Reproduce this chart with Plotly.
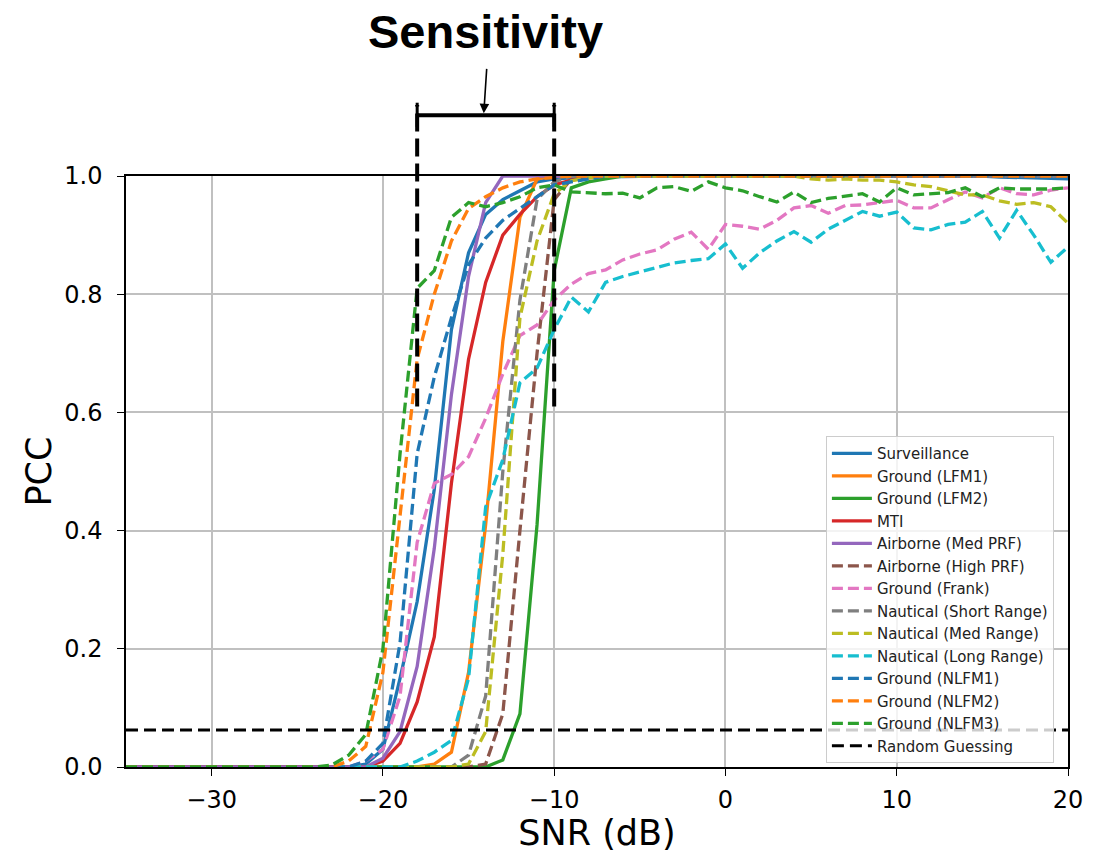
import plotly.graph_objects as go

SNR = list(range(-35, 21))

surveillance = [0, 0, 0, 0, 0, 0, 0, 0, 0, 0, 0, 0, 0,
                0.0, 0.005, 0.03, 0.15, 0.28, 0.47, 0.74, 0.87, 0.935, 0.96, 0.975, 0.99, 0.995, 0.997,
                0.998, 1.0, 0.999, 1.0, 1.0, 1.0, 1.0, 1.0, 1.0, 1.0, 1.0, 1.0, 1.0, 1.0, 1.0,
                1.0, 1.0, 1.0, 1.0, 1.0, 1.0, 1.0, 1.0, 1.0, 0.998, 0.998, 0.997, 0.996, 0.995]
lfm1 = [0, 0, 0, 0, 0, 0, 0, 0, 0, 0, 0, 0, 0, 0, 0, 0, 0, 0,
        0.005, 0.025, 0.16, 0.41, 0.72, 0.93, 0.995,
        1.0, 1.0, 1.0, 1.0, 1.0, 1.0, 1.0, 1.0, 1.0, 1.0, 1.0, 1.0, 1.0, 1.0, 1.0, 1.0,
        1.0, 1.0, 1.0, 1.0, 1.0, 1.0, 1.0, 1.0, 1.0, 1.0, 1.0, 1.0, 1.0, 1.0, 1.0]
lfm2 = [0, 0, 0, 0, 0, 0, 0, 0, 0, 0, 0, 0, 0, 0, 0, 0, 0, 0, 0, 0, 0, 0,
        0.012, 0.09, 0.41, 0.84, 0.98, 0.99, 0.995,
        1.0, 1.0, 1.0, 1.0, 1.0, 1.0, 1.0, 1.0, 1.0, 1.0, 1.0, 1.0, 1.0, 1.0, 1.0,
        1.0, 1.0, 1.0, 1.0, 1.0, 1.0, 1.0, 1.0, 1.0, 1.0, 1.0, 1.0]
mti = [0, 0, 0, 0, 0, 0, 0, 0, 0, 0, 0, 0, 0, 0, 0,
       0.01, 0.04, 0.11, 0.22, 0.48, 0.69, 0.82, 0.9, 0.935, 0.965, 0.985, 0.993, 0.997,
       1.0, 1.0, 1.0, 1.0, 1.0, 1.0, 1.0, 1.0, 1.0, 1.0, 1.0, 1.0, 1.0, 1.0,
       1.0, 1.0, 1.0, 1.0, 1.0, 1.0, 1.0, 1.0, 1.0, 1.0, 1.0, 1.0, 1.0, 1.0]
airborne_med = [0, 0, 0, 0, 0, 0, 0, 0, 0, 0, 0, 0, 0, 0, 0,
                0.015, 0.06, 0.17, 0.37, 0.63, 0.83, 0.955,
                1.0, 1.0, 1.0, 1.0, 1.0, 1.0, 1.0, 1.0, 1.0, 1.0, 1.0, 1.0, 1.0, 1.0, 1.0, 1.0, 1.0,
                1.0, 1.0, 1.0, 1.0, 1.0, 1.0, 1.0, 1.0, 1.0, 1.0, 1.0, 1.0, 1.0, 1.0, 1.0, 1.0, 1.0]
airborne_high = [0, 0, 0, 0, 0, 0, 0, 0, 0, 0, 0, 0, 0, 0, 0, 0, 0, 0, 0, 0, 0,
                 0.005, 0.09, 0.40, 0.70, 0.96, 0.995,
                 1.0, 1.0, 1.0, 1.0, 1.0, 1.0, 1.0, 1.0, 1.0, 1.0, 1.0, 1.0, 1.0, 1.0, 1.0,
                 1.0, 1.0, 1.0, 1.0, 1.0, 1.0, 1.0, 1.0, 1.0, 1.0, 1.0, 1.0, 1.0, 1.0]
frank = [0, 0, 0, 0, 0, 0, 0, 0, 0, 0, 0, 0, 0, 0,
         0.01, 0.03, 0.12, 0.38, 0.48, 0.495, 0.525, 0.59, 0.665, 0.73, 0.748, 0.79,
         0.817, 0.835, 0.841, 0.858, 0.868, 0.875, 0.893, 0.905, 0.876, 0.918,
         0.915, 0.91, 0.925, 0.946, 0.95, 0.937, 0.95, 0.951, 0.955, 0.959,
         0.946, 0.946, 0.96, 0.973, 0.963, 0.98, 0.97, 0.968, 0.976, 0.98]
short_range = [0, 0, 0, 0, 0, 0, 0, 0, 0, 0, 0, 0, 0, 0, 0, 0, 0, 0, 0, 0,
               0.02, 0.12, 0.5, 0.79, 0.96, 0.99,
               1.0, 1.0, 1.0, 1.0, 1.0, 1.0, 1.0, 1.0, 1.0, 1.0, 1.0, 1.0, 1.0, 1.0, 1.0,
               1.0, 1.0, 1.0, 1.0, 1.0, 1.0, 1.0, 1.0, 1.0, 1.0, 1.0, 1.0, 1.0, 1.0, 1.0]
med_range = [0, 0, 0, 0, 0, 0, 0, 0, 0, 0, 0, 0, 0, 0, 0, 0, 0, 0, 0, 0,
             0.005, 0.06, 0.36, 0.76, 0.89, 0.97, 0.992, 0.997,
             1.0, 1.0, 1.0, 1.0, 1.0, 1.0, 1.0, 1.0, 1.0, 1.0, 1.0, 1.0,
             0.995, 0.993, 0.995, 0.993, 0.993, 0.99, 0.985, 0.982, 0.975, 0.968,
             0.968, 0.958, 0.952, 0.955, 0.948, 0.92]
long_range = [0, 0, 0, 0, 0, 0, 0, 0, 0, 0, 0, 0, 0, 0, 0, 0, 0,
              0.01, 0.025, 0.045, 0.15, 0.44, 0.52, 0.65, 0.675, 0.74, 0.795, 0.77,
              0.82, 0.83, 0.838, 0.845, 0.853, 0.857, 0.86, 0.885,
              0.844, 0.87, 0.89, 0.906, 0.888, 0.91, 0.925, 0.94, 0.932, 0.939,
              0.912, 0.909, 0.918, 0.922, 0.94, 0.895, 0.942, 0.90, 0.854, 0.88]
nlfm1 = [0, 0, 0, 0, 0, 0, 0, 0, 0, 0, 0, 0, 0, 0,
         0.01, 0.04, 0.21, 0.53, 0.66, 0.76, 0.85, 0.895, 0.925, 0.945, 0.965, 0.985, 0.99, 0.995,
         1.0, 1.0, 1.0, 1.0, 1.0, 1.0, 1.0, 1.0, 1.0, 1.0, 1.0, 1.0, 1.0, 1.0,
         1.0, 1.0, 1.0, 1.0, 1.0, 1.0, 1.0, 1.0, 1.0, 1.0, 1.0, 1.0, 1.0, 1.0]
nlfm2 = [0, 0, 0, 0, 0, 0, 0, 0, 0, 0, 0, 0, 0,
         0.01, 0.035, 0.16, 0.43, 0.69, 0.80, 0.89, 0.945, 0.965, 0.98, 0.99, 0.995, 0.997,
         1.0, 1.0, 1.0, 1.0, 1.0, 1.0, 1.0, 1.0, 1.0, 1.0, 1.0, 1.0, 1.0, 1.0, 1.0,
         1.0, 1.0, 1.0, 1.0, 1.0, 1.0, 1.0, 1.0, 1.0, 1.0, 1.0, 1.0, 1.0, 1.0, 1.0]
nlfm3 = [0, 0, 0, 0, 0, 0, 0, 0, 0, 0, 0, 0,
         0.003, 0.02, 0.055, 0.2, 0.53, 0.81, 0.84, 0.93, 0.955, 0.948, 0.955, 0.965, 0.98, 0.985,
         0.973, 0.972, 0.97, 0.971, 0.963, 0.98, 0.982, 0.974, 0.99, 0.98,
         0.975, 0.965, 0.956, 0.973, 0.955, 0.962, 0.966, 0.97, 0.956, 0.98,
         0.968, 0.97, 0.972, 0.98, 0.965, 0.98, 0.978, 0.978, 0.978, 0.98]

RANDOM_GUESS = 0.0625
SENS_LOW, SENS_HIGH = -18, -10
X_RANGE = [-35, 20]

names = ["Surveillance", "Ground (LFM1)", "Ground (LFM2)", "MTI", "Airborne (Med PRF)",
         "Airborne (High PRF)", "Ground (Frank)", "Nautical (Short Range)", "Nautical (Med Range)",
         "Nautical (Long Range)", "Ground (NLFM1)", "Ground (NLFM2)", "Ground (NLFM3)"]
series = [surveillance, lfm1, lfm2, mti, airborne_med, airborne_high, frank, short_range,
          med_range, long_range, nlfm1, nlfm2, nlfm3]
colors = ["#1f77b4", "#ff7f0e", "#2ca02c", "#d62728", "#9467bd", "#8c564b", "#e377c2",
          "#7f7f7f", "#bcbd22", "#17becf", "#1f77b4", "#ff7f0e", "#2ca02c"]
dashes = ["solid"] * 5 + ["11px,5px"] * 8

fig = go.Figure()
for n, s, c, d in zip(names, series, colors, dashes):
    fig.add_trace(go.Scatter(x=SNR, y=s, mode="lines", name=n,
                             line=dict(color=c, width=3.3, dash=d)))
fig.add_trace(go.Scatter(x=X_RANGE, y=[RANDOM_GUESS, RANDOM_GUESS], mode="lines",
                         name="Random Guessing",
                         line=dict(color="black", width=3, dash="12px,6px")))

def px(v):
    return (v - X_RANGE[0]) / (X_RANGE[1] - X_RANGE[0])

shapes = []
for xv in (SENS_LOW, SENS_HIGH):
    shapes.append(dict(type="line", xref="paper", yref="paper", x0=px(xv), x1=px(xv),
                       y0=0.61, y1=1.12, line=dict(color="black", width=4, dash="18px,7px")))
    shapes.append(dict(type="line", xref="paper", yref="paper", x0=px(xv), x1=px(xv),
                       y0=1.083, y1=1.124, line=dict(color="black", width=3)))
shapes.append(dict(type="line", xref="paper", yref="paper", x0=px(SENS_LOW), x1=px(SENS_HIGH),
                   y0=1.103, y1=1.103, line=dict(color="black", width=4)))

fig.update_layout(
    width=1096, height=853,
    margin=dict(l=126, r=28, t=176, b=86),
    plot_bgcolor="white", paper_bgcolor="white",
    font=dict(family="DejaVu Sans", color="black"),
    shapes=shapes,
    showlegend=True,
    legend=dict(x=0.743, y=0.56, xanchor="left", yanchor="top",
                font=dict(family="DejaVu Sans", size=15, color="#222222"),
                bgcolor="rgba(255,255,255,0.8)", bordercolor="#cccccc", borderwidth=1,
                tracegroupgap=0, itemwidth=40),
    xaxis=dict(range=X_RANGE, tick0=-30, dtick=10, showgrid=True, gridcolor="#c0c0c0",
               gridwidth=1.6, zeroline=False, showline=True, mirror=True, linecolor="black",
               linewidth=1.5, ticks="outside", ticklen=7, tickcolor="black",
               ticklabelstandoff=3, automargin=False,
               tickfont=dict(size=24, family="DejaVu Sans"),
               title=dict(text="SNR (dB)", font=dict(size=35, family="DejaVu Sans"), standoff=15)),
    yaxis=dict(range=[0, 1], dtick=0.2, tickformat=".1f", showgrid=True, gridcolor="#c0c0c0",
               gridwidth=1.6, zeroline=False, showline=True, mirror=True, linecolor="black",
               linewidth=1.5, ticks="outside", ticklen=7, tickcolor="black",
               ticklabelstandoff=10, automargin=False,
               tickfont=dict(size=24, family="DejaVu Sans"),
               title=dict(text="PCC", font=dict(size=35, family="DejaVu Sans"), standoff=2)),
    annotations=[
        dict(text="<b>Sensitivity</b>", xref="paper", yref="paper",
             x=px((SENS_LOW + SENS_HIGH) / 2), y=1.245, xanchor="center", yanchor="middle",
             showarrow=False, font=dict(family="Liberation Sans", size=47, color="black")),
        dict(text="", xref="paper", yref="paper", x=px((SENS_LOW + SENS_HIGH) / 2) - 0.002, y=1.106,
             ax=3, ay=-46, showarrow=True, arrowhead=2, arrowsize=1.2, arrowwidth=1.6,
             arrowcolor="black"),
    ],
)

fig.write_html("out.html", config={"displayModeBar": False},
               post_script="document.body.style.margin='0px';")
